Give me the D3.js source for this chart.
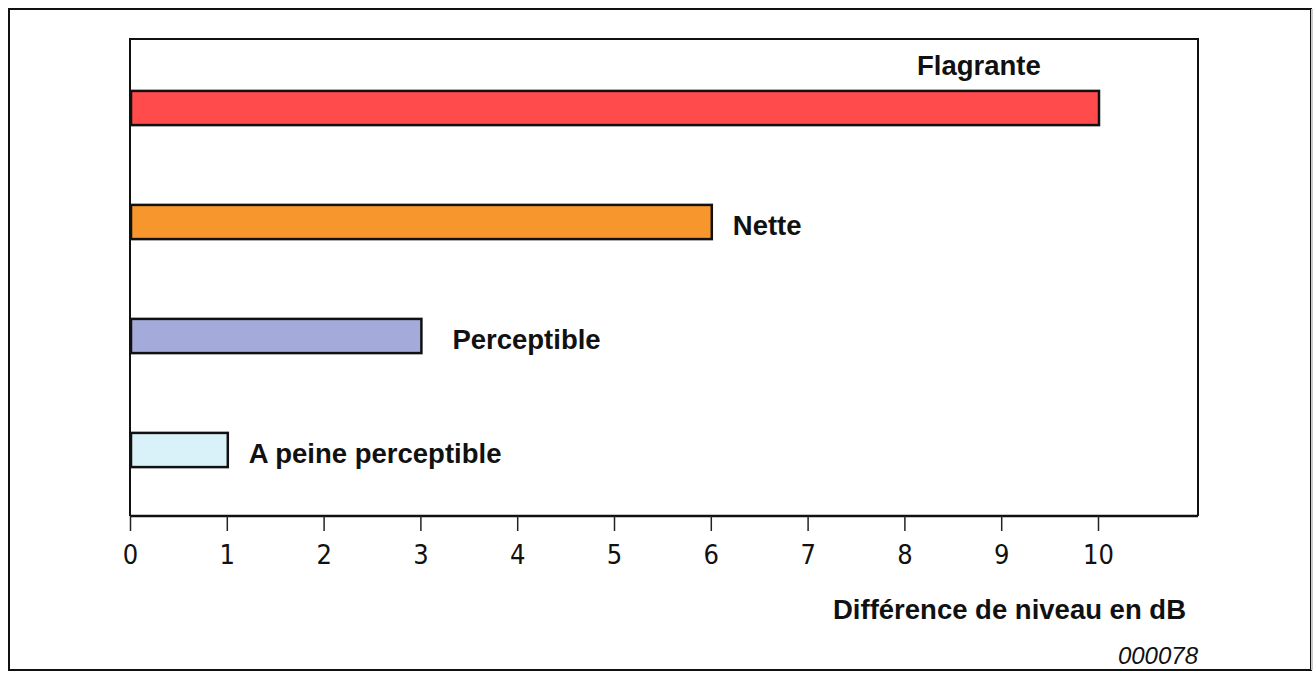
<!DOCTYPE html>
<html><head><meta charset="utf-8">
<script src="https://cdn.jsdelivr.net/npm/d3@7"></script>
<style>body{margin:0;background:#fff}svg{display:block}</style>
</head><body>
<svg id="c" width="1314" height="674"></svg>
<script>
const categories = ["Flagrante", "Nette", "Perceptible", "A peine perceptible"];
const values = [10, 6, 3, 1];
const colors = ["#ff4b4b", "#f7962c", "#a4aada", "#d9f1f8"];
const tickValues = [0,1,2,3,4,5,6,7,8,9,10];
const axisTitle = "Différence de niveau en dB";
const code = "000078";

const svg = d3.select("#c");
// outer frame
svg.append("rect").attr("x",9).attr("y",9).attr("width",1302).attr("height",661)
  .attr("fill","none").attr("stroke","#111").attr("stroke-width",2);
svg.append("line").attr("x1",1312).attr("x2",1312).attr("y1",9).attr("y2",670).attr("stroke","#ccc").attr("stroke-width",2);

const L = 130, R = 1198, T = 39, B = 516;
const x = d3.scaleLinear().domain([0,10]).range([130,1098]);
const y = d3.scaleBand().domain(categories).range([51, 507]).paddingInner(0.7).paddingOuter(0.35);

// plot frame
svg.append("path").attr("d",`M${L},${B}V${T}H${R}V${B}`).attr("fill","none").attr("stroke","#111").attr("stroke-width",2);

// axis
const ax = svg.append("g").attr("transform",`translate(0,${B})`)
  .call(d3.axisBottom(x).tickValues(tickValues).tickSize(15).tickSizeOuter(0).tickPadding(14));
ax.select(".domain").attr("d",`M${L},0H${R}`).attr("stroke","#111").attr("stroke-width",2.5);
ax.selectAll(".tick line").attr("stroke","#222").attr("stroke-width",1.5);
ax.selectAll(".tick text").attr("font-family","'Liberation Sans Narrow','DejaVu Sans Condensed',sans-serif")
  .attr("font-size",27).attr("fill","#111");

// bars
svg.selectAll("rect.bar").data(categories).join("rect").attr("class","bar")
  .attr("x", x(0)+1).attr("y", d=>y(d))
  .attr("width", (d,i)=>x(values[i])-x(0)).attr("height", y.bandwidth())
  .attr("fill",(d,i)=>colors[i]).attr("stroke","#111").attr("stroke-width",2.5);

// labels
svg.selectAll("text.lab").data(categories).join("text").attr("class","lab")
  .attr("x",(d,i)=> i===0 ? 917 : x(values[i]) + (i===2 ? 32 : 22))
  .attr("y",(d,i)=> i===0 ? y(d) - 16 : y(d) + y.bandwidth()/2 + 13)
  .attr("font-family","'Liberation Sans',Arial,sans-serif").attr("font-weight","bold")
  .attr("font-size",27.5).attr("fill","#111").text(d=>d);

svg.append("text").attr("x",1186).attr("y",619).attr("text-anchor","end")
  .attr("font-family","'Liberation Sans',Arial,sans-serif").attr("font-weight","bold")
  .attr("font-size",27.5).attr("fill","#111").text(axisTitle);
svg.append("text").attr("x",1198).attr("y",664).attr("text-anchor","end")
  .attr("font-family","'Liberation Sans',Arial,sans-serif").attr("font-style","italic")
  .attr("font-size",24).attr("fill","#111").text(code);
</script>
</body></html>
